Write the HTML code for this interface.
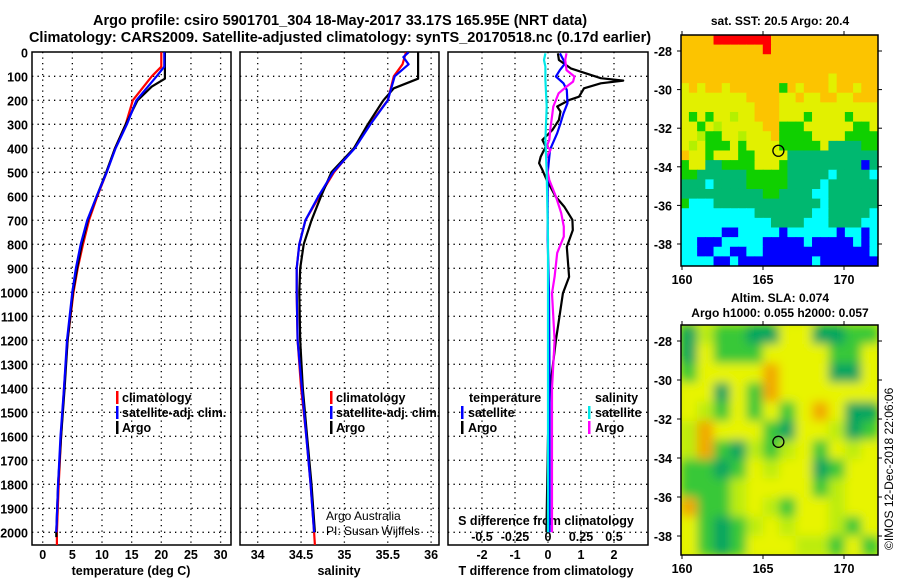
<!DOCTYPE html>
<html><head><meta charset="utf-8"><style>
html,body{margin:0;padding:0;background:#fff;}
svg{display:block;font-family:"Liberation Sans",sans-serif;}
.b{font-weight:bold;}
</style></head><body>
<svg id="s" width="900" height="580" viewBox="0 0 900 580" xmlns="http://www.w3.org/2000/svg">
<defs>
<clipPath id="cp1"><rect x="32" y="52" width="199" height="493"/></clipPath>
<clipPath id="cp2"><rect x="240" y="52" width="199" height="493"/></clipPath>
<clipPath id="cp3"><rect x="448" y="52" width="200" height="493"/></clipPath>
<clipPath id="cpm1"><rect x="681" y="35" width="197" height="231"/></clipPath>
<clipPath id="cpm2"><rect x="681" y="325" width="197" height="230"/></clipPath>
<filter id="blur" x="-5%" y="-5%" width="110%" height="110%"><feGaussianBlur stdDeviation="5"/></filter>
</defs>
<text x="340" y="25" text-anchor="middle" class="b" font-size="14.5">Argo profile: csiro 5901701_304 18-May-2017 33.17S 165.95E (NRT data)</text>
<text x="340" y="42" text-anchor="middle" class="b" font-size="14.5">Climatology: CARS2009. Satellite-adjusted climatology: synTS_20170518.nc (0.17d earlier)</text>
<text x="780" y="25" text-anchor="middle" class="b" font-size="12">sat. SST: 20.5 Argo: 20.4</text>
<text x="780" y="302" text-anchor="middle" class="b" font-size="12">Altim. SLA: 0.074</text>
<text x="780" y="317" text-anchor="middle" class="b" font-size="12">Argo h1000: 0.055 h2000: 0.057</text>
<text transform="translate(893,550) rotate(-90)" font-size="12">©IMOS 12-Dec-2018 22:06:06</text>
<g id="g"></g>
</svg>
<script>
// ---- data ----
const depthTicks = [0,100,200,300,400,500,600,700,800,900,1000,1100,1200,1300,1400,1500,1600,1700,1800,1900,2000];
const tempTicks = [0,5,10,15,20,25,30];
const salTicks = [34,34.5,35,35.5,36];
const salTickLabels = ["34","34.5","35","35.5","36"];
const tdiffTicks = [-2,-1,0,1,2];
const sdiffTicks = [-0.5,-0.25,0,0.25,0.5];
const sdiffTickLabels = ["-0.5","-0.25","0","0.25","0.5"];

const argoTempDepth = [0,110,143,200,300,400,500,600,700,800,900,1000,1200,1400,1600,1800,2000,2020];
const argoTemp = [20.6,20.6,18.4,16.0,14.0,12.2,10.7,9.1,7.6,6.6,5.8,5.1,4.2,3.7,3.1,2.6,2.3,2.3];
const climTempDepth = [0,60,100,200,300,400,500,600,700,800,900,1000,1200,1400,1600,1800,2000,2053];
const climTemp = [20.0,20.0,18.4,15.2,14.0,12.2,10.8,9.2,7.8,6.8,5.9,5.2,4.2,3.6,3.1,2.7,2.4,2.4];
const satTempDepth = [0,60,100,200,300,400,500,600,700,800,900,1000,1200,1400,1600,1800,2000];
const satTemp = [20.5,20.5,19.2,15.8,14.2,12.3,10.8,9.1,7.5,6.4,5.6,5.0,4.1,3.6,3.0,2.6,2.3];

const argoSalDepth = [0,110,150,200,300,400,500,600,700,800,900,1000,1200,1400,1600,1800,2000];
const argoSal = [35.85,35.85,35.57,35.45,35.27,35.11,34.85,34.73,34.62,34.53,34.49,34.48,34.49,34.52,34.57,34.62,34.66];
const climSalDepth = [0,50,100,200,300,400,500,600,700,800,900,1000,1200,1400,1600,1800,2000,2053];
const climSal = [35.71,35.67,35.57,35.5,35.29,35.11,34.88,34.71,34.55,34.48,34.45,34.45,34.46,34.5,34.56,34.61,34.65,34.66];
const satSalDepth = [0,20,50,100,200,300,400,500,600,700,800,900,1000,1200,1400,1600,1800,2000];
const satSal = [35.74,35.68,35.74,35.58,35.5,35.3,35.12,34.87,34.7,34.55,34.48,34.45,34.45,34.46,34.51,34.56,34.61,34.65];

const satTdiffDepth = [4,46,74,101,129,157,212,254,296,337,406,503,781,1000,1400,2000];
const satTdiff = [0.36,0.52,0.36,0.24,0.47,0.57,0.59,0.47,0.38,0.28,0.06,-0.01,-0.01,0.03,0.05,0.05];
const argoTdiffDepth = [4,32,67,108,118,129,150,185,199,226,247,282,324,365,393,435,462,490,532,601,643,698,741,811,936,1004,1100,1200,1300,1400,1600,2000];
const argoTdiff = [0.30,0.33,0.69,1.6,2.28,1.6,1.09,0.94,0.64,0.28,0.38,0.33,0.13,-0.17,-0.07,-0.22,-0.27,-0.17,-0.04,0.23,0.49,0.74,0.75,0.57,0.64,0.45,0.35,0.24,0.15,0.06,0,-0.05];
const argoSdiffDepth = [4,32,74,101,122,143,171,199,226,268,310,365,393,406,435,476,532,601,670,726,768,836,935,1004,1200,1400,2000];
const argoSdiff = [0.14,0.13,0.14,0.2,0.19,0.14,0.08,0.06,0.04,0.03,0.02,0.01,-0.01,0.02,-0.01,-0.01,0.01,0.06,0.1,0.12,0.12,0.07,0.05,0.03,0.05,0.03,0.03];
const satSdiffDepth = [4,32,60,115,226,365,503,781,1200,2000];
const satSdiff = [-0.02,-0.03,-0.02,-0.02,-0.01,-0.02,-0.01,0,0,0];

const lonTicks = [160,165,170];
const latTicks = [-28,-30,-32,-34,-36,-38];
const sstGrid = [
"OOOORRRRRRROOOOOOOOOOOOO",
"OOOOOOOOOOROOOOOOOOOOOOO",
"OOOOOOOOOOOOOOOOOOOOOOOO",
"OOOOOOOOOOOOOOOOOOOOOOOO",
"OOOOOOOOOOOOOOOOOOYOOOOO",
"YOYOOYOOOOOOGOYOOOYOOYOO",
"YYYYYYYYOOOOYYOYYOOYYOOO",
"YYYYYYYYYOOOYYYYYYYYYYYY",
"YGYGYYLYYOOOYYYGYYYYGYYY",
"YYGYLYYYYYOOGGGYYYYYYGGY",
"YYLGGYYLYYYOGGGGYYYYGGGG",
"YLYGGGYGYYYYGGGGGYEEEEGG",
"OYYGYYYGGYYYYEEEEEEEEEEE",
"GYYEEGGGGYYYGEEEEEEEEEBE",
"GGEEEEEEGGGGGEEEEECEEEEC",
"EEECEEEEGGGGGEEEECEEEEEE",
"EEEEEEEEEEGGEEEECCEEEEEE",
"GCCCEEEEEEEEEEEEECEEEEEE",
"CCCCCCCCCEEEEEEECCEEEEEC",
"CCCCCCCCCCCEEEECCCEEEECC",
"CCCCCBBCCCCCBCCCCCCBCCBC",
"CCBBBCCCCCBBBBBCBBBBBCBC",
"CCBBCCBBCCBBBBBBBBBBBBBC",
"CCCCBBCBBBBBBBBBCBBBBBBB"];
const slaGrid = [
"ELGGEEYYEEGG",
"EYGGGYYYYGGY",
"GYYYYOYYYEEY",
"YYEYGOYYYYYY",
"YLGYGYGYOYEE",
"LOYYYGEYYLEG",
"LOGELGLYGYLY",
"GGEGYLYYEGYY",
"GGGLYYYYGLYY",
"OGGLYLGYYLYY",
"YGEGLYLYYLGY",
"YGEGYYYLLGYG"];
const argoLon = 165.95, argoLat = -33.17;

// ---- helpers ----
const NS = "http://www.w3.org/2000/svg";
const G = document.getElementById('g');
function mk(tag, attrs, parent){const e=document.createElementNS(NS,tag);for(const k in attrs)e.setAttribute(k,attrs[k]);(parent||G).appendChild(e);return e;}
const yD = d => 52.3 + d*0.24;
const xT = t => 42.7 + t*5.93;
const xS = s => 257.7 + (s-34)*86.7;
const xTd = v => 548 + v*33;
const xSd = v => 548 + v*132;
const mx = lon => 682 + (lon-160)*16.2;
const my1 = lat => 51 + (-28-lat)*19.3;
const my2 = lat => 341 + (-28-lat)*19.5;

function panel(x0,w,name,xt,xfn,labels){
  const grp = mk('g',{});
  
  
  depthTicks.forEach(d=>{ if(d>0){const l=mk('line',{x1:x0,x2:x0+w,y1:yD(d),y2:yD(d),stroke:'#000','stroke-width':1.3,'stroke-dasharray':'1.3,4.2'},grp);
    
    }});
  xt.forEach((v,i)=>{const X=xfn(v);
    const l=mk('line',{x1:X,x2:X,y1:52,y2:545,stroke:'#000','stroke-width':1.3,'stroke-dasharray':'1.3,4.2'},grp);
    
    
    if(labels){const t=mk('text',{x:X,y:559,'text-anchor':'middle','font-size':12.5,'font-weight':'bold'},grp);t.textContent=labels[i];
    
    }});
  const r=mk('rect',{x:x0,y:52,width:w,height:493,fill:'none',stroke:'#000','stroke-width':1.5},grp);
  
  
  return grp;
}
function line(xs,ds,xfn,color,name,clip,sw){
  const pts = xs.map((v,i)=>xfn(v).toFixed(1)+','+yD(ds[i]).toFixed(1)).join(' ');
  const p=mk('polyline',{points:pts,fill:'none',stroke:color,'stroke-width':sw||2.2,'clip-path':'url(#'+clip+')','stroke-linejoin':'round'});
  
  
}
function txt(x,y,s,size,bold,name,anchor){const t=mk('text',{x:x,y:y,'font-size':size,'font-weight':bold?'bold':'normal','text-anchor':anchor||'start'});t.textContent=s;
  
  return t;}
function legBar(x,y,color,name){const r=mk('rect',{x:x,y:y-11,width:2.5,height:13,fill:color});
  
  }

depthTicks.forEach(d=>{txt(28,yD(d)+5,String(d),12.5,true,'depth-tick-label','end');});

panel(32,199,'temperature-panel',tempTicks,xT,tempTicks.map(String));
panel(240,199,'salinity-panel',salTicks,xS,salTickLabels);
panel(448,200,'difference-panel',tdiffTicks,xTd,tdiffTicks.map(String));

txt(131,575,'temperature (deg C)',12.5,true,'temperature-axis-title','middle');
txt(339,575,'salinity',12.5,true,'salinity-axis-title','middle');
txt(546,575,'T difference from climatology',12.5,true,'tdiff-axis-title','middle');
txt(546,525,'S difference from climatology',12.5,true,'sdiff-axis-title','middle');
sdiffTicks.forEach((v,i)=>{txt(xSd(v),541,sdiffTickLabels[i],12.5,true,'sdiff-tick-label','middle');});

line(climTemp,climTempDepth,xT,'#ff0000','clim-temperature-line','cp1');
line(argoTemp,argoTempDepth,xT,'#000000','argo-temperature-line','cp1');
line(satTemp,satTempDepth,xT,'#0000ff','sat-temperature-line','cp1');
line(climSal,climSalDepth,xS,'#ff0000','clim-salinity-line','cp2');
line(argoSal,argoSalDepth,xS,'#000000','argo-salinity-line','cp2');
line(satSal,satSalDepth,xS,'#0000ff','sat-salinity-line','cp2');
line(argoTdiff,argoTdiffDepth,xTd,'#000000','argo-tdiff-line','cp3');
line(satTdiff,satTdiffDepth,xTd,'#0000ff','sat-tdiff-line','cp3');
line(argoSdiff,argoSdiffDepth,xSd,'#ff00ff','argo-sdiff-line','cp3');
line(satSdiff,satSdiffDepth,xSd,'#00e8e8','sat-sdiff-line','cp3');

[[116,'#ff0000','climatology'],[116,'#0000ff','satellite-adj. clim.'],[116,'#000000','Argo']].forEach((e,i)=>{
  legBar(e[0],402+i*15,e[1],'temp-legend-swatch');txt(e[0]+6,402+i*15,e[2],12.5,true,'temp-legend-entry');});
[[330,'#ff0000','climatology'],[330,'#0000ff','satellite-adj. clim.'],[330,'#000000','Argo']].forEach((e,i)=>{
  legBar(e[0],402+i*15,e[1],'sal-legend-swatch');txt(e[0]+6,402+i*15,e[2],12.5,true,'sal-legend-entry');});
txt(469,402,'temperature',12.5,true,'tdiff-legend-heading');
txt(595,402,'salinity',12.5,true,'sdiff-legend-heading');
legBar(461,417,'#0000ff','tdiff-legend-swatch');txt(468,417,'satellite',12.5,true,'tdiff-legend-entry');
legBar(461,432,'#000000','tdiff-legend-swatch');txt(468,432,'Argo',12.5,true,'tdiff-legend-entry');
legBar(588,417,'#00e8e8','sdiff-legend-swatch');txt(595,417,'satellite',12.5,true,'sdiff-legend-entry');
legBar(588,432,'#ff00ff','sdiff-legend-swatch');txt(595,432,'Argo',12.5,true,'sdiff-legend-entry');
txt(326,520,'Argo Australia',12,false,'credit-argo-australia');
txt(326,535,'PI: Susan Wijffels',12,false,'credit-pi');

const sstCol = {O:'#fcc400',R:'#ff0000',Y:'#e2f000',L:'#b4f000',G:'#10d000',E:'#00b870',C:'#00ffff',B:'#0000ff'};
const slaCol = {Y:'#e8f400',L:'#bcec10',G:'#38c838',E:'#00a460',O:'#f2a800'};
const lon0=160-0.08, lon1=172.08;
const m1=mk('g',{'clip-path':'url(#cpm1)'});


const latTop1=-27.17, latBot1=-39.14;
sstGrid.forEach((row,r)=>{for(let c=0;c<row.length;c++){
  const la=latTop1+(latBot1-latTop1)*r/sstGrid.length, la2=latTop1+(latBot1-latTop1)*(r+1)/sstGrid.length;
  const lo=lon0+(lon1-lon0)*c/row.length, lo2=lon0+(lon1-lon0)*(c+1)/row.length;
  const e=mk('rect',{x:mx(lo),y:my1(la),width:mx(lo2)-mx(lo)+0.6,height:my1(la2)-my1(la)+0.6,fill:sstCol[row[c]]},m1);
  
  }});
const m2o=mk('g',{'clip-path':'url(#cpm2)'});


mk('rect',{x:681,y:325,width:197,height:230,fill:'#d8f000'},m2o);
const m2=mk('g',{filter:'url(#blur)'},m2o);
const latTop2=-27.18, latBot2=-38.97;
slaGrid.forEach((row,r)=>{for(let c=0;c<row.length;c++){
  const la=latTop2+(latBot2-latTop2)*r/slaGrid.length, la2=latTop2+(latBot2-latTop2)*(r+1)/slaGrid.length;
  const lo=lon0+(lon1-lon0)*c/row.length, lo2=lon0+(lon1-lon0)*(c+1)/row.length;
  const e=mk('rect',{x:mx(lo),y:my2(la),width:mx(lo2)-mx(lo)+0.6,height:my2(la2)-my2(la)+0.6,fill:slaCol[row[c]]},m2);
  
  }});
[[my1,35,266,'sst'],[my2,325,555,'sla']].forEach(([fy,t,b,n])=>{
  const fr=mk('rect',{x:681,y:t,width:197,height:b-t,fill:'none',stroke:'#000','stroke-width':1.5});
  
  
  lonTicks.forEach(v=>{mk('line',{x1:mx(v),x2:mx(v),y1:t-4,y2:t,stroke:'#000'});mk('line',{x1:mx(v),x2:mx(v),y1:b,y2:b+4,stroke:'#000'});
    txt(mx(v),b+18,String(v),12.5,true,n+'-lon-label','middle');});
  latTicks.forEach(v=>{mk('line',{x1:677,x2:681,y1:fy(v),y2:fy(v),stroke:'#000'});mk('line',{x1:878,x2:882,y1:fy(v),y2:fy(v),stroke:'#000'});
    txt(672,fy(v)+5,String(v),12.5,true,n+'-lat-label','end');});
  const c=mk('circle',{cx:mx(argoLon),cy:fy(argoLat),r:5.5,fill:'none',stroke:'#000','stroke-width':1.3});
  
  
});
</script>
</body></html>
